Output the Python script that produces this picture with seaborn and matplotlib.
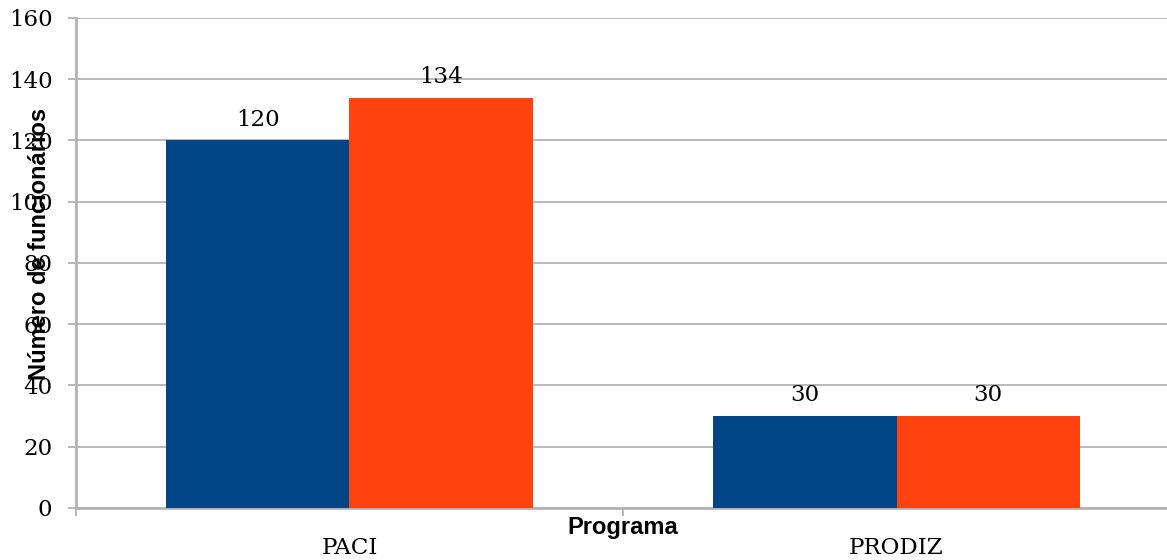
import matplotlib
matplotlib.use("Agg")
import matplotlib.pyplot as plt
import seaborn as sns
import pandas as pd
from matplotlib.ticker import MultipleLocator, FixedLocator

# Data
programas = ["PACI", "PRODIZ"]
series = ["Série 1", "Série 2"]
valores_serie1 = [120, 30]
valores_serie2 = [134, 30]
cores = ["#004586", "#ff420e"]

df = pd.DataFrame({
    "Programa": programas * 2,
    "Série": [series[0]] * len(programas) + [series[1]] * len(programas),
    "Valor": valores_serie1 + valores_serie2,
})

sns.set_theme(style="white")
plt.rcParams["font.family"] = ["DejaVu Serif"]

fig = plt.figure(figsize=(11.67, 5.6), dpi=100)
ax = fig.add_axes([0.0651, 0.0929, 0.9375, 0.875])

sns.barplot(data=df, x="Programa", y="Valor", hue="Série", order=programas,
            hue_order=series, palette=cores, width=0.67, gap=0,
            saturation=1, linewidth=0, legend=False, ax=ax, zorder=3)

grid_color = "#b3b3b3"
ax.set_xlim(-0.5, 1.5)
ax.set_ylim(0, 160)
ax.yaxis.set_major_locator(MultipleLocator(20))
ax.grid(axis="y", color=grid_color, linewidth=1.3, zorder=0)
ax.set_axisbelow(True)

for side in ["top", "right"]:
    ax.spines[side].set_visible(False)
for side in ["left", "bottom"]:
    ax.spines[side].set_color(grid_color)
    ax.spines[side].set_linewidth(2)

# Category boundary ticks on x, labels at centers
ax.xaxis.set_minor_locator(FixedLocator([-0.5, 0.5, 1.5]))
ax.tick_params(axis="x", which="minor", length=6, width=1.3, color=grid_color,
               direction="out", bottom=True)
ax.tick_params(axis="x", which="major", length=0, pad=21, labelsize=16.5,
               labelcolor="black")
ax.tick_params(axis="y", which="major", length=6, width=1.3, color=grid_color,
               direction="out", left=True, pad=11, labelsize=16.5,
               labelcolor="black")

for cont in ax.containers:
    ax.bar_label(cont, labels=[f"{v:.0f}" for v in cont.datavalues],
                 padding=7, fontsize=16.5, color="black")

ax.set_xlabel("Programa", fontsize=17, fontweight="bold",
              family=["Liberation Sans", "DejaVu Sans"], color="black")
ax.xaxis.label.set_va("center")
ax.xaxis.set_label_coords(0.5, -0.039)

ax.set_ylabel("Número de funcionários", fontsize=17, fontweight="bold",
              family=["Liberation Sans", "DejaVu Sans"], color="black")
ax.yaxis.label.set_va("center")
ax.yaxis.set_label_coords(-0.033, 0.539)

fig.savefig("out.png", dpi=100, facecolor="white")
